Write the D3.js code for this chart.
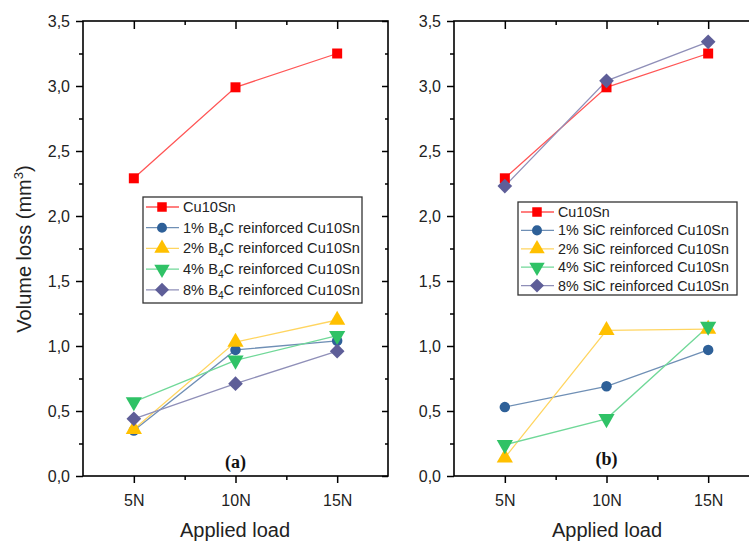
<!DOCTYPE html>
<html>
<head>
<meta charset="utf-8">
<script src="https://cdn.jsdelivr.net/npm/d3@7"></script>
<style>
body{margin:0;background:#fff;}
svg{display:block;font-family:"Liberation Sans",Arial,sans-serif;}
</style>
</head>
<body>
<script>
var loads = [5, 10, 15];
var loadLabels = ['5N', '10N', '15N'];
var yTicks = [0, 0.5, 1, 1.5, 2, 2.5, 3, 3.5];

// panel (a): B4C
var b4cNames = ['Cu10Sn', '1% B4C reinforced Cu10Sn', '2% B4C reinforced Cu10Sn', '4% B4C reinforced Cu10Sn', '8% B4C reinforced Cu10Sn'];
var b4c0 = [2.29, 2.99, 3.25];
var b4c1 = [0.35, 0.97, 1.04];
var b4c2 = [0.36, 1.03, 1.20];
var b4c4 = [0.57, 0.89, 1.08];
var b4c8 = [0.44, 0.71, 0.96];

// panel (b): SiC
var sicNames = ['Cu10Sn', '1% SiC reinforced Cu10Sn', '2% SiC reinforced Cu10Sn', '4% SiC reinforced Cu10Sn', '8% SiC reinforced Cu10Sn'];
var sic0 = [2.29, 2.99, 3.25];
var sic1 = [0.53, 0.69, 0.97];
var sic2 = [0.14, 1.12, 1.13];
var sic4 = [0.24, 0.44, 1.15];
var sic8 = [2.23, 3.04, 3.34];

var marks = ['square', 'circle', 'up', 'down', 'diamond'];
var fills = ['#ff0000', '#2e6098', '#ffc000', '#2fc266', '#5e5e98'];
var strokes = ['#ff5555', '#6f8fb5', '#ffd560', '#70d898', '#8f8fb8'];

var W = 749, H = 544;
var svg = d3.select('body').append('svg').attr('width', W).attr('height', H);

var y = d3.scaleLinear().domain([0, 3.5]).range([476, 21]);

function symbolPath(type, s) {
    if (type == 'square') return d3.symbol(d3.symbolSquare, s*s)();
    if (type == 'circle') return d3.symbol(d3.symbolCircle, Math.PI*s*s/4)();
    if (type == 'diamond') return d3.symbol(d3.symbolSquare, s*s*0.55)();
    return d3.symbol(d3.symbolTriangle, s*s*0.58)();
}
function symbolRot(type) {
    if (type == 'down') return 180;
    if (type == 'diamond') return 45;
    return 0;
}
var sizes = {square: 10, circle: 10.5, up: 14, down: 14, diamond: 14};

function panel(x0, xMid, series, names, label, legendBox, showYLabel) {
    var x = d3.scaleLinear().domain([2.5, 17.5]).range([x0, x0 + 305]);
    var g = svg.append('g');

    var line = d3.line().x(function(d, i){return x(loads[i])}).y(function(d){return y(d)});

    series.forEach(function(s, k){
        g.append('path').attr('d', line(s)).attr('fill', 'none')
            .attr('stroke', strokes[k]).attr('stroke-width', 1.3);
    });
    series.forEach(function(s, k){
        g.selectAll(null).data(s).enter().append('path')
            .attr('d', symbolPath(marks[k], sizes[marks[k]]))
            .attr('fill', fills[k])
            .attr('transform', function(d, i){
                return 'translate(' + x(loads[i]) + ',' + y(d) + ') rotate(' + symbolRot(marks[k]) + ')';
            });
    });

    // frame and axes
    var xl = x.range()[0], xr = x.range()[1];
    g.append('rect').attr('x', xl).attr('y', 21).attr('width', xr - xl).attr('height', 455)
        .attr('fill', 'none').attr('stroke', '#000').attr('stroke-width', 1.6);

    g.append('g').attr('transform', 'translate(0,476)')
        .call(d3.axisBottom(x).tickValues(loads).tickFormat(function(d, i){return loadLabels[i]}).tickSize(7).tickPadding(12));
    g.append('g').attr('transform', 'translate(0,476)')
        .call(d3.axisBottom(x).tickValues([7.5, 12.5]).tickFormat('').tickSize(4));
    g.append('g').attr('transform', 'translate(0,21)')
        .call(d3.axisBottom(x).tickValues(loads).tickFormat('').tickSize(8));
    g.append('g').attr('transform', 'translate(0,21)')
        .call(d3.axisBottom(x).tickValues([7.5, 12.5]).tickFormat('').tickSize(4));

    g.append('g').attr('transform', 'translate(' + xl + ',0)')
        .call(d3.axisLeft(y).tickValues(yTicks).tickFormat(function(d){return d3.format('.1f')(d).replace('.', ',')}).tickSize(7).tickPadding(6));
    g.append('g').attr('transform', 'translate(' + xl + ',0)')
        .call(d3.axisLeft(y).tickValues(d3.range(0.25, 3.5, 0.5)).tickFormat('').tickSize(4));
    g.append('g').attr('transform', 'translate(' + xr + ',0)')
        .call(d3.axisLeft(y).tickValues(yTicks).tickFormat('').tickSize(6));
    g.append('g').attr('transform', 'translate(' + xr + ',0)')
        .call(d3.axisLeft(y).tickValues(d3.range(0.25, 3.5, 0.5)).tickFormat('').tickSize(3));

    g.selectAll('.domain').remove();
    g.selectAll('.tick line').attr('stroke', '#000').attr('stroke-width', 1.5);
    g.selectAll('.tick text').attr('font-size', 16).attr('fill', '#222')
        .attr('font-family', '"Liberation Sans",Arial,sans-serif');

    g.append('text').attr('x', xMid).attr('y', 537).attr('text-anchor', 'middle')
        .attr('font-size', 20).attr('fill', '#222').text('Applied load');

    g.append('text').attr('x', x(10)).attr('y', label.y).attr('text-anchor', 'middle')
        .attr('font-family', '"Liberation Serif","Times New Roman",serif').attr('font-weight', 'bold')
        .attr('font-size', 18).attr('fill', '#111').text(label.t);

    if (showYLabel) {
        var yl = g.append('text').attr('transform', 'translate(31,249) rotate(-90)')
            .attr('text-anchor', 'middle').attr('font-size', 20).attr('fill', '#222');
        yl.append('tspan').text('Volume loss (mm');
        yl.append('tspan').attr('font-size', 13).attr('dy', -8).text('3');
        yl.append('tspan').attr('dy', 8).text(')');
    }

    // legend
    var lb = legendBox;
    var lg = g.append('g');
    lg.append('rect').attr('x', lb.x).attr('y', lb.y).attr('width', lb.w).attr('height', lb.h)
        .attr('fill', '#fff').attr('stroke', '#333').attr('stroke-width', 1.3);
    names.forEach(function(n, k){
        var cy = lb.y + lb.first + k * lb.step;
        lg.append('line').attr('x1', lb.x + 3).attr('x2', lb.x + 36).attr('y1', cy).attr('y2', cy)
            .attr('stroke', strokes[k]).attr('stroke-width', 1.3);
        lg.append('path').attr('d', symbolPath(marks[k], sizes[marks[k]] * 0.95)).attr('fill', fills[k])
            .attr('transform', 'translate(' + (lb.x + 19) + ',' + cy + ') rotate(' + symbolRot(marks[k]) + ')');
        var t = lg.append('text').attr('x', lb.x + 40).attr('y', cy + 5)
            .attr('font-size', lb.fs).attr('fill', '#222');
        var m = n.match(/^(.*B)4(C.*)$/);
        if (m) {
            t.append('tspan').text(m[1]);
            t.append('tspan').attr('font-size', lb.fs * 0.7).attr('dy', 4).text('4');
            t.append('tspan').attr('dy', -4).text(m[2]);
        } else {
            t.text(n);
        }
    });
}

panel(83, 235,
    [b4c0, b4c1, b4c2, b4c4, b4c8], b4cNames,
    {t: '(a)', y: 468},
    {x: 143, y: 197, w: 219, h: 106, first: 10, step: 20.7, fs: 14.6}, true);

panel(454, 607,
    [sic0, sic1, sic2, sic4, sic8], sicNames,
    {t: '(b)', y: 465},
    {x: 518, y: 202, w: 219, h: 93, first: 10, step: 18.4, fs: 14.3}, false);
</script>
</body>
</html>
